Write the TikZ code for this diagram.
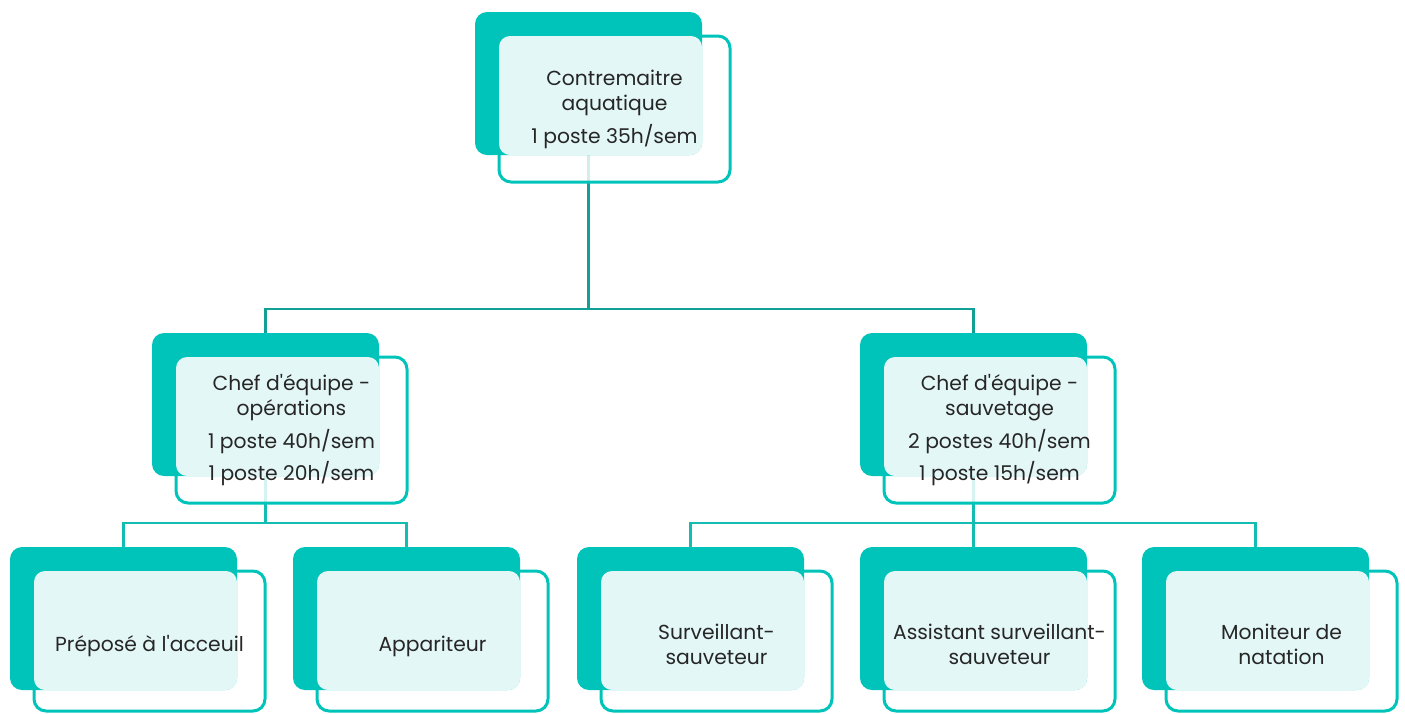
\documentclass[tikz,border=0pt]{standalone}
\usepackage{fontspec}
\setmainfont{Poppins}[Ligatures=TeXOff]
\usetikzlibrary{calc}
\definecolor{tealA}{HTML}{00C4B9}
\definecolor{tealL}{HTML}{E3F7F6}
\definecolor{connD}{HTML}{10A095}
\definecolor{connL}{HTML}{13BDB2}
\pgfdeclarelayer{bg}
\pgfsetlayers{bg,main}
\tikzset{
  backbox/.style={fill=tealA, draw=none, rounded corners=12pt, minimum width=227pt, minimum height=143pt, inner sep=0pt, outer sep=0pt, anchor=north west},
  framebox/.style={draw=tealA, line width=3pt, fill=white, fill opacity=0.82, rounded corners=12pt, minimum width=231pt, inner sep=0pt, outer sep=0pt, anchor=north west},
  lightbox/.style={fill=tealL, rounded corners=11pt},
  lbl/.style={align=center, font=\fontsize{20.3}{25}\selectfont, text=black!85, inner sep=0pt},
  connTop/.style={draw=connD, line width=2.8pt},
  connLow/.style={draw=connL, line width=2.8pt},
}
\newcommand{\orgunit}[5]{% name, x, y, frame height, text
  \node[framebox, minimum height=#4pt] (#1f) at (#2+24,#3+24) {};
  \node[backbox] (#1b) at (#2,#3) {};
  \fill[lightbox] (#1f.north west) rectangle (#1b.south east);
  \node[lbl] (#1t) at (#1f.center) {#5};
}
\begin{document}
\begin{tikzpicture}[x=1pt,y=-1pt]
\useasboundingbox (0,0) rectangle (1405,713);
\orgunit{top}{475}{12}{146}{Contremaitre\\aquatique\\[8pt]1 poste 35h/sem}
\orgunit{ml}{152}{333}{146}{Chef d'équipe -\\opérations\\[8pt]1 poste 40h/sem\\[7pt]1 poste 20h/sem}
\orgunit{mr}{860}{333}{146}{Chef d'équipe -\\sauvetage\\[8pt]2 postes 40h/sem\\[7pt]1 poste 15h/sem}
\orgunit{ba}{10}{547}{140}{}
\orgunit{bb}{293}{547}{140}{}
\orgunit{bc}{577}{547}{140}{}
\orgunit{bd}{860}{547}{140}{}
\orgunit{be}{1142}{547}{140}{}
\node[lbl] (tba) at ($(baf.center)+(0,5)$) {Préposé à l'acceuil};
\node[lbl] (tbb) at ($(bbf.center)+(0,5)$) {Appariteur};
\node[lbl] (tbc) at ($(bcf.center)+(0,3)$) {Surveillant-\\sauveteur};
\node[lbl] (tbd) at ($(bdf.center)+(0,3)$) {Assistant surveillant-\\sauveteur};
\node[lbl] (tbe) at ($(bef.center)+(0,3)$) {Moniteur de\\natation};
\begin{pgfonlayer}{bg}
  \coordinate (j1) at (topb.south |- 0,309);
  \coordinate (j2) at (mlb.south |- 0,523);
  \coordinate (j3) at (mrb.south |- 0,523);
  \draw[connTop] (topb.south) -- (j1);
  \draw[connTop] (mlb.north) |- (j1) -| (mrb.north);
  \draw[connLow] (mlb.south) -- (j2);
  \draw[connLow] (bab.north) |- (j2) -| (bbb.north);
  \draw[connLow] (mrb.south) -- (bdb.north);
  \draw[connLow] (bcb.north) |- (j3) -| (beb.north);
\end{pgfonlayer}
\end{tikzpicture}
\end{document}
